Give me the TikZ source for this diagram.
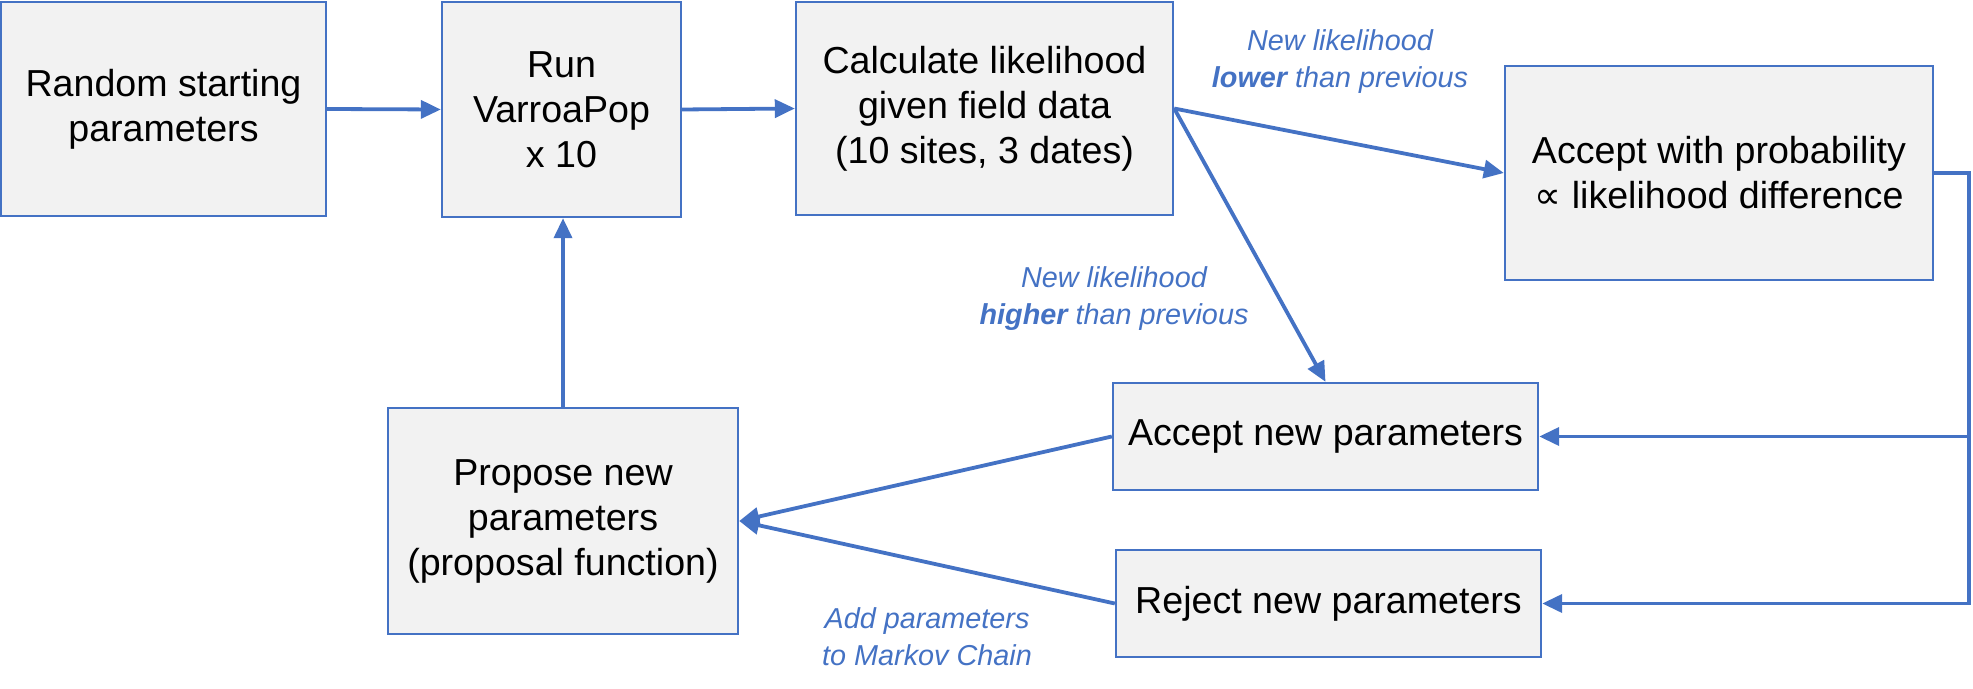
\documentclass[tikz,border=0pt]{standalone}
\usepackage{fontspec}
\setmainfont{Liberation Sans}
\newfontfamily\dejavu{DejaVu Sans}
\usetikzlibrary{arrows.meta}
\definecolor{myblue}{HTML}{4472C4}
\definecolor{boxfill}{HTML}{F2F2F2}
\tikzset{
 box/.style={draw=myblue, line width=1.2pt, fill=boxfill, inner sep=0pt, align=center, font=\fontsize{18.8}{22.5}\selectfont},
 conn/.style={draw=myblue, line width=1.9pt, -{Triangle[length=10pt,width=9pt]}},
 lbl/.style={text=myblue, align=center, font=\fontsize{14.4}{18.5}\selectfont\itshape}
}
\begin{document}
\begin{tikzpicture}[x=0.5pt,y=-0.5pt]
\useasboundingbox (0,0) rectangle (1973,689);
\node[box, minimum width=162.5pt, minimum height=107pt] (rand) at (163.5,109) {Random starting\\parameters};
\node[box, minimum width=119.5pt, minimum height=107.5pt] (run) at (561.5,109.5) {Run\\VarroaPop\\x 10};
\node[box, minimum width=188.5pt, minimum height=106.5pt] (calc) at (984.5,108.5) {Calculate likelihood\\given field data\\(10 sites, 3 dates)};
\node[box, minimum width=214pt, minimum height=107pt] (accp) at (1719,173) {Accept with probability\\{\dejavu ∝} likelihood difference};
\node[box, minimum width=212.5pt, minimum height=53.5pt] (accn) at (1325.5,436.5) {Accept new parameters};
\node[box, minimum width=212.5pt, minimum height=53.5pt] (rej) at (1328.5,603.5) {Reject new parameters};
\node[box, minimum width=175pt, minimum height=113pt] (prop) at (563,521) {Propose new\\parameters\\(proposal function)};
\coordinate (rx) at (1969,300);
\draw[conn] (rand.east) -- (run.west);
\draw[conn] (run.east) -- (calc.west);
\draw[conn] (prop.north) -- (prop.north |- run.south);
\draw[conn] (calc.east) -- (accp.west);
\draw[conn] (calc.east) -- (accn.north);
\draw[conn] (accp.east) -- (accp.east -| rx) -- (rx |- rej.east) -- (rej.east);
\draw[conn] (accn.east -| rx) -- (accn.east);
\draw[conn] (accn.west) -- (prop.east);
\draw[conn] (rej.west) -- (prop.east);
\node[lbl] (l1) at (1340,62) {New likelihood\\\textbf{lower} than previous};
\node[lbl] (l2) at (1114,299) {New likelihood\\\textbf{higher} than previous};
\node[lbl] (l3) at (927,637) {Add parameters\\to Markov Chain};
\end{tikzpicture}
\end{document}
